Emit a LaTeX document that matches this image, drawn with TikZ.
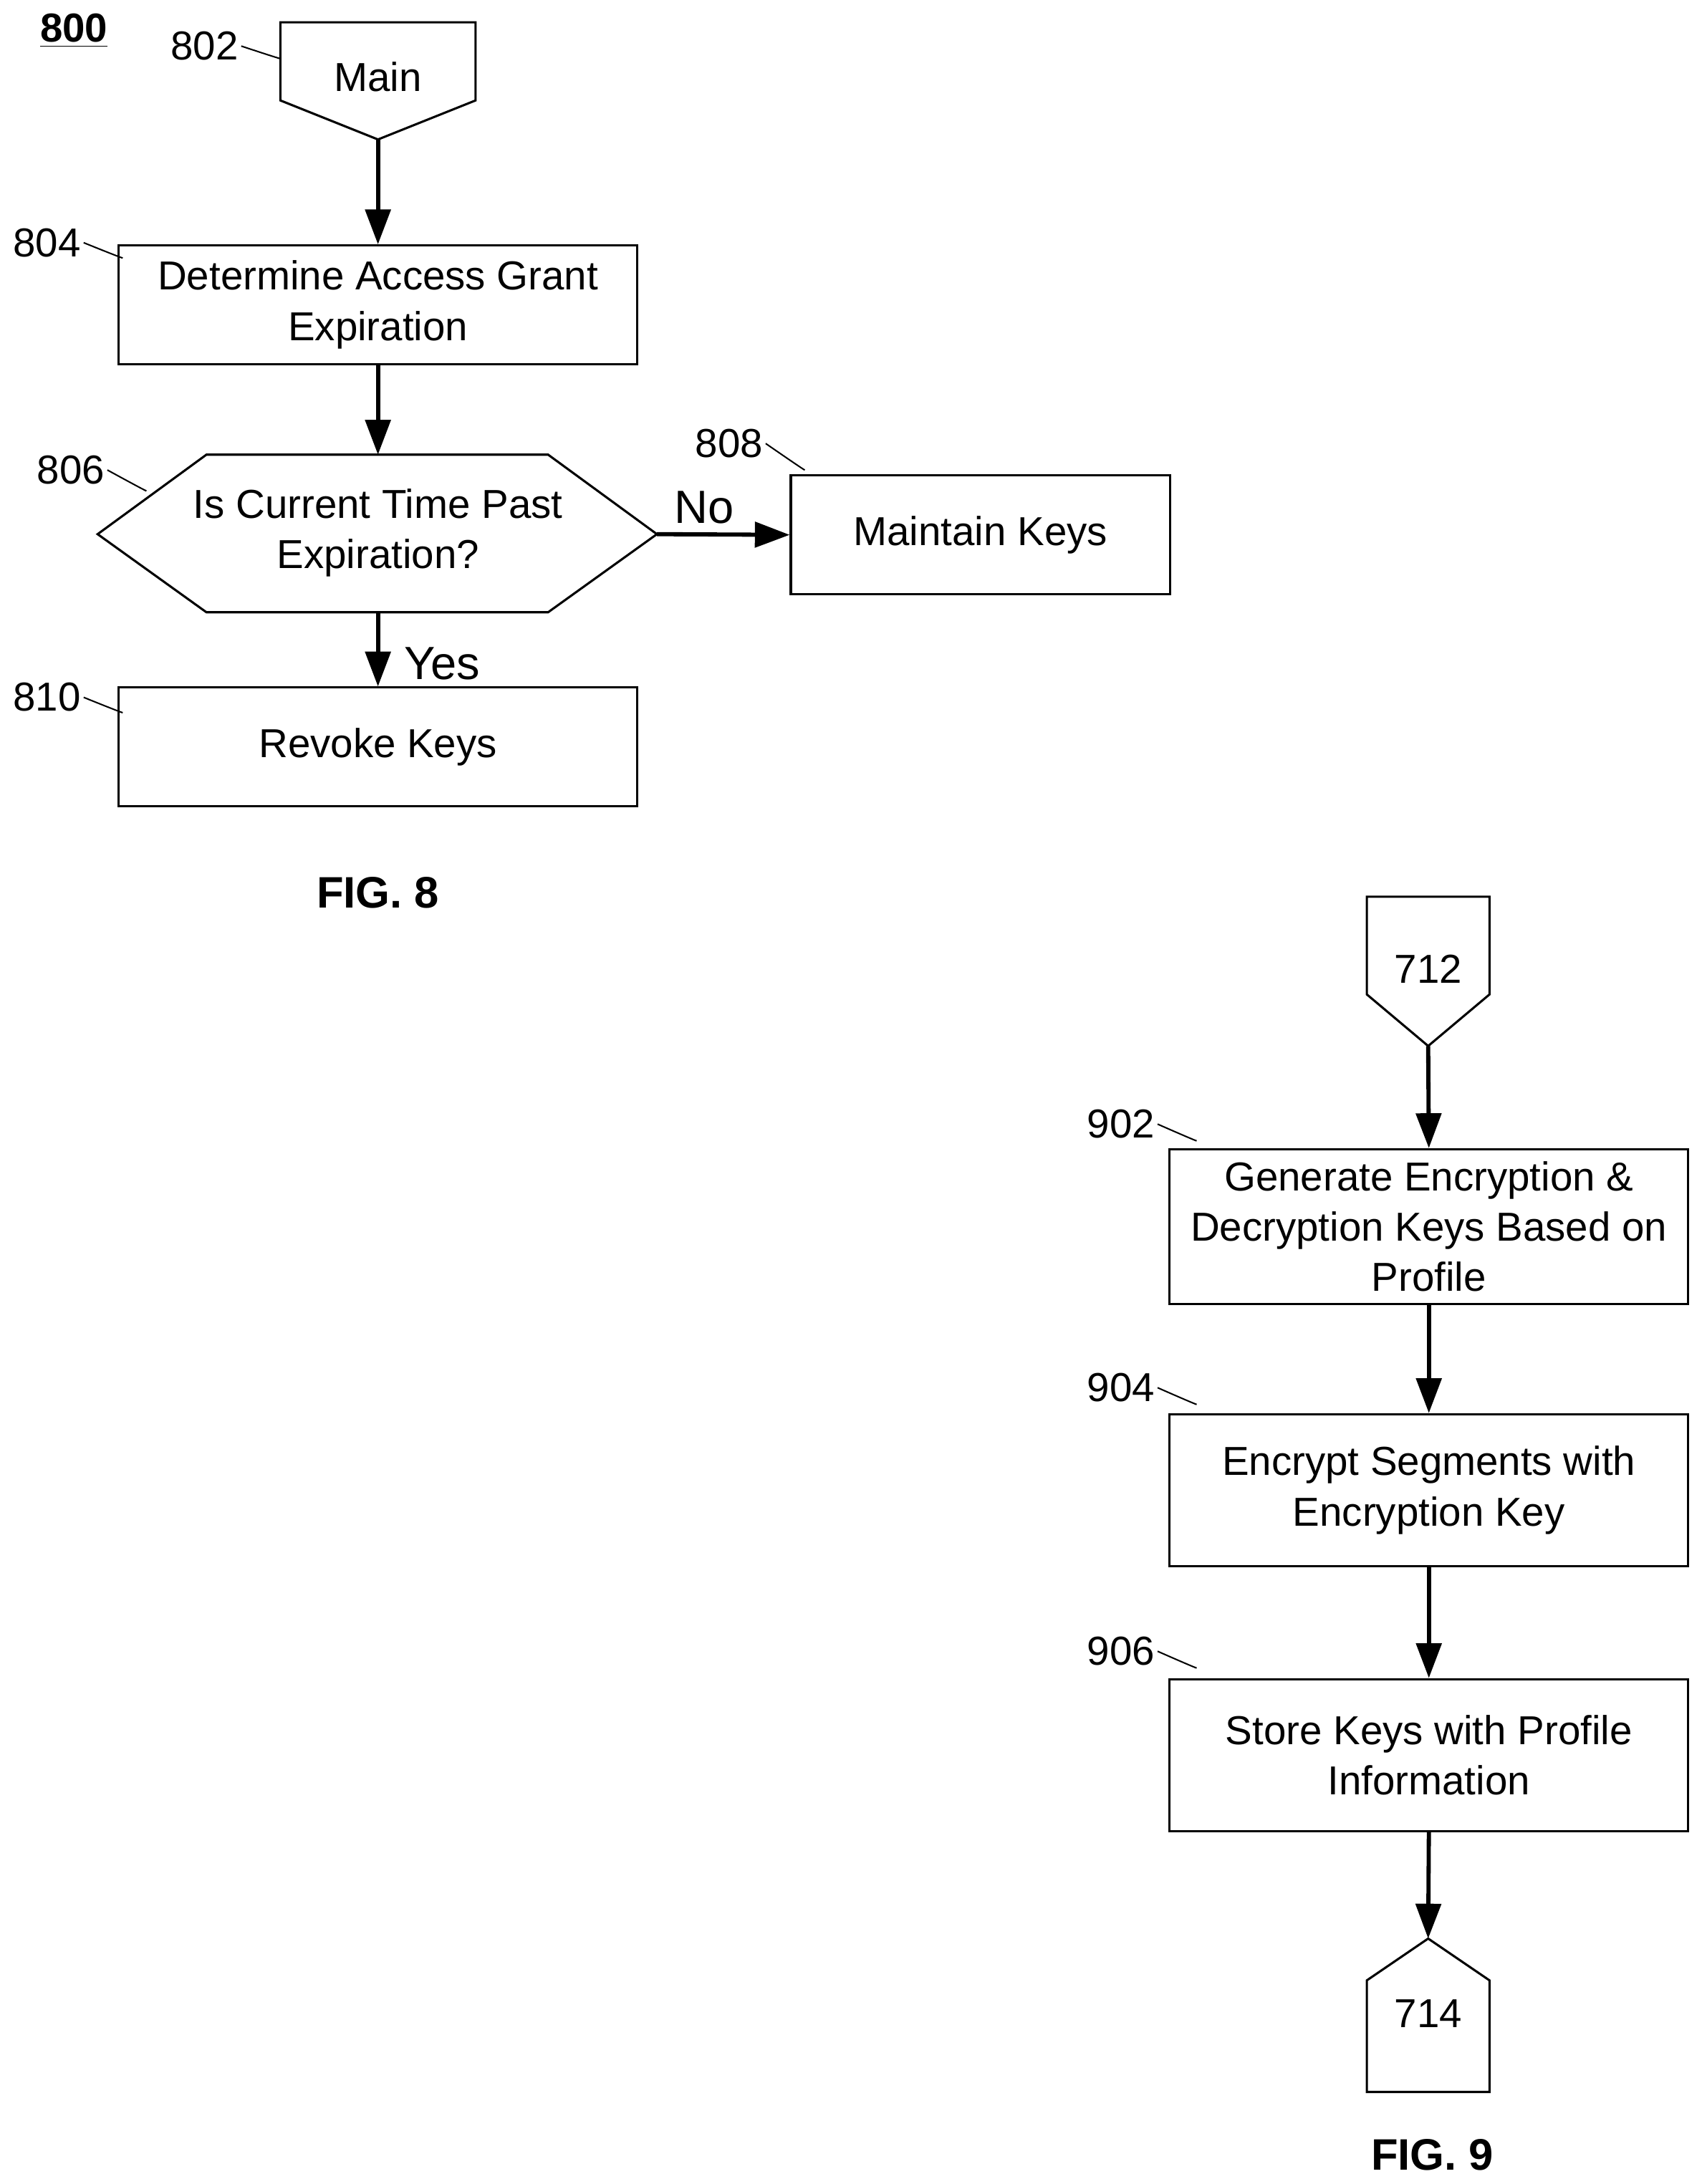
\documentclass[tikz,border=0pt]{standalone}
\usepackage{fontspec}
\setmainfont{Liberation Sans}
\usetikzlibrary{arrows.meta}
\tikzstyle{box} = [draw, line width=0.9pt, minimum width=7.44cm, minimum height=1.7cm, align=center, inner sep=0pt]
\tikzstyle{txt} = [align=center, font=\fontsize{16.5}{20.5}\selectfont]
\tikzstyle{ref} = [font=\fontsize{16.5}{20}\selectfont, anchor=east, inner sep=1pt]
\tikzstyle{flow} = [line width=1.7pt, -{Triangle[length=5mm,width=3.6mm]}]
\def\leader(#1)(#2){ \draw[line width=0.6pt] (#1) .. controls +(0.25,0.15) and +(-0.2,0.25) .. (#2) }

\begin{document}
\begin{tikzpicture}[x=0.02cm,y=-0.02cm]
    \useasboundingbox (0,0) rectangle (1220,1566);
    \node[font=\fontsize{16.5}{20}\selectfont\bfseries] (title) at (53,22) {\underline{800}};

    % FIG. 8
    \draw[line width=0.9pt] (201,16) -- (341,16) -- (341,72) -- (271,100) -- (201,72) -- cycle;
    \node[txt] (main) at (271,55) {Main};
    \coordinate (maintip) at (271,100);
    \node[box, txt, minimum height=1.7cm] (n804) at (271,218.5) {Determine Access Grant\\Expiration};
    \draw[line width=0.9pt] (70,383) -- (148,326) -- (393,326) -- (471,383) -- (393,439) -- (148,439) -- cycle;
    \node[txt] (n806) at (271,382) {Is Current Time Past\\Expiration?};
    \coordinate (hexL) at (471,383);
    \coordinate (hexT) at (271,326);
    \coordinate (hexB) at (271,439);
    \node[box, txt, minimum width=5.44cm] (n808) at (703,383.5) {Maintain Keys};
    \node[box, txt] (n810) at (271,535.5) {Revoke Keys};

    \draw[flow] (maintip) -- (n804.north);
    \draw[flow] (n804.south) -- (hexT);
    \draw[flow] (hexL) -- (n808.west);
    \draw[flow] (hexB) -- (n810.north);
    \node[font=\fontsize{19}{22}\selectfont] (no) at (505,364) {No};
    \node[font=\fontsize{19}{22}\selectfont] (yes) at (317,476) {Yes};

    \node[ref] (l802) at (173,33) {802};
    \node[ref] (l804) at (60,174) {804};
    \node[ref] (l806) at (77,337) {806};
    \node[ref] (l808) at (549,318) {808};
    \node[ref] (l810) at (60,500) {810};
    \leader(l802.east)(201,42);
    \leader(l804.east)(88,185);
    \leader(l806.east)(105,352);
    \leader(l808.east)(577,337);
    \leader(l810.east)(88,511);

    \node[font=\fontsize{18}{22}\selectfont\bfseries] (fig8) at (271,640) {FIG. 8};

    % FIG. 9
    \draw[line width=0.9pt] (980,643) -- (1068,643) -- (1068,713) -- (1024,750) -- (980,713) -- cycle;
    \node[txt] (c712) at (1024,695) {712};
    \coordinate (tip712) at (1024,750);
    \node[box, txt, minimum height=2.22cm] (n902) at (1024.5,879.5) {Generate Encryption \&\\Decryption Keys Based on\\Profile};
    \node[box, txt, minimum height=2.18cm] (n904) at (1024.5,1068.5) {Encrypt Segments with\\Encryption Key};
    \node[box, txt, minimum height=2.18cm] (n906) at (1024.5,1258.5) {Store Keys with Profile\\Information};
    \draw[line width=0.9pt] (1024,1390) -- (1068,1420) -- (1068,1500) -- (980,1500) -- (980,1420) -- cycle;
    \node[txt] (c714) at (1024,1444) {714};
    \coordinate (tip714) at (1024,1390);

    \draw[flow] (tip712) -- (n902.north);
    \draw[flow] (n902.south) -- (n904.north);
    \draw[flow] (n904.south) -- (n906.north);
    \draw[flow] (n906.south) -- (tip714);

    \node[ref] (l902) at (830,806) {902};
    \node[ref] (l904) at (830,995) {904};
    \node[ref] (l906) at (830,1184) {906};
    \leader(l902.east)(858,818);
    \leader(l904.east)(858,1007);
    \leader(l906.east)(858,1196);

    \node[font=\fontsize{18}{22}\selectfont\bfseries] (fig9) at (1027,1545) {FIG. 9};
\end{tikzpicture}
\end{document}
